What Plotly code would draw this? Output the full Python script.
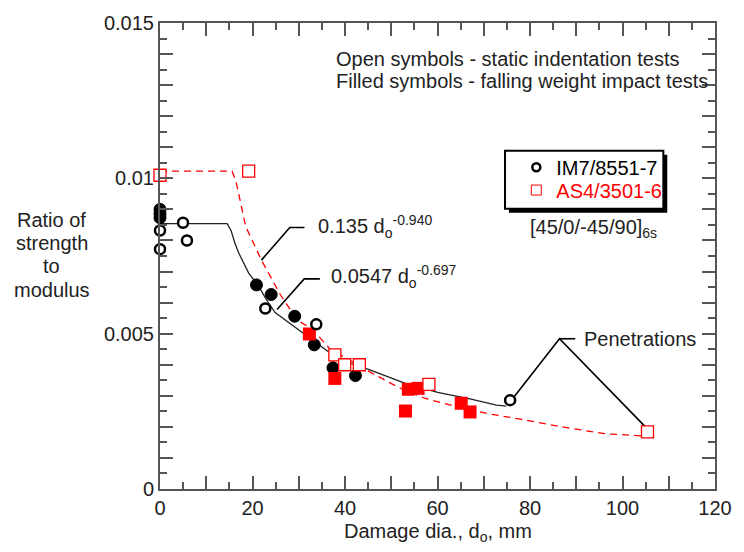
import plotly.graph_objects as go

# ---------------- data ----------------
im7_open_x = [0, 0, 4.98, 5.83, 22.77, 33.79, 75.7]
im7_open_y = [0.00832, 0.00772, 0.00857, 0.0080, 0.00581, 0.0053, 0.00286]
im7_filled_x = [0, 0, 0, 20.86, 24.04, 29.12, 33.36, 37.4, 42.26]
im7_filled_y = [0.0090, 0.00886, 0.00873, 0.00657, 0.00626, 0.00556, 0.00464, 0.0039, 0.00365]
as4_open_x = [0, 19.17, 37.81, 39.93, 43.1, 58.14, 105.4]
as4_open_y = [0.0101, 0.01023, 0.00432, 0.0040, 0.0040, 0.00337, 0.00184]
as4_filled_x = [32.3, 37.81, 53.7, 55.81, 53.07, 65.13, 67.04]
as4_filled_y = [0.00499, 0.00356, 0.00321, 0.00324, 0.00251, 0.00276, 0.00248]

im7_fit_x = [0, 14.51, 15.36, 16.2, 17.05, 18.3, 19.17, 21.29, 22.98, 24.89, 28.28, 32.52,
             36.12, 38.87, 41.4, 45.21, 53.05, 60.04, 67.25, 72.75, 74.87]
im7_fit_y = [0.00854, 0.00854, 0.00832, 0.00791, 0.00759, 0.00721, 0.00695, 0.00654, 0.0061,
             0.00568, 0.0053, 0.00483, 0.00445, 0.00416, 0.00403, 0.00384, 0.0034, 0.00311,
             0.00289, 0.0027, 0.00267]
as4_fit_x = [0, 15.57, 16.42, 18.53, 21.92, 26.16, 29.76, 32.94, 36.75, 45.21, 51.57, 57.29,
             64.28, 71.49, 77.84, 86.95, 96.06, 104.3]
as4_fit_y = [0.01023, 0.01023, 0.00991, 0.00845, 0.00737, 0.00622, 0.00543, 0.00514, 0.00451,
             0.00378, 0.00327, 0.00292, 0.00264, 0.00241, 0.00225, 0.002, 0.00178, 0.00171]

# leader lines for labels
lead1_x = [31.24, 28.07, 21.92]
lead1_y = [0.008415, 0.008415, 0.007367]
lead2_x = [34.57, 31.18, 25.31]
lead2_y = [0.006764, 0.006764, 0.00578]
lead_pen_x = [76.36, 86.38, 104.96, None, 86.38, 89.77]
lead_pen_y = [0.002931, 0.004836, 0.0020, None, 0.004836, 0.004836]

x_tickvals = list(range(0, 121, 10))
x_ticktext = [str(v) if v % 20 == 0 else "" for v in x_tickvals]
y_tickvals = [i * 0.001 for i in range(16)]
y_ticklabels = {0: "0", 5: "0.005", 10: "0.01", 15: "0.015"}
y_ticktext = [y_ticklabels.get(i, "") for i in range(16)]

FONT = "Liberation Sans, Arial, sans-serif"
FS = 20
AX = "#555555"

fig = go.Figure()

fig.add_trace(go.Scatter(x=im7_fit_x, y=im7_fit_y, mode="lines",
                         line=dict(color="#222222", width=1.3), showlegend=False, hoverinfo="skip"))
fig.add_trace(go.Scatter(x=as4_fit_x, y=as4_fit_y, mode="lines",
                         line=dict(color="#ff0000", width=1.3, dash="7px,5px"),
                         showlegend=False, hoverinfo="skip"))
for lx, ly in [(lead1_x, lead1_y), (lead2_x, lead2_y), (lead_pen_x, lead_pen_y)]:
    fig.add_trace(go.Scatter(x=lx, y=ly, mode="lines", line=dict(color="black", width=1.6),
                             showlegend=False, hoverinfo="skip", connectgaps=False))

fig.add_trace(go.Scatter(x=im7_filled_x, y=im7_filled_y, mode="markers", showlegend=False,
                         cliponaxis=False,
                         marker=dict(symbol="circle", size=12, color="black",
                                     line=dict(color="black", width=1))))
fig.add_trace(go.Scatter(x=as4_filled_x, y=as4_filled_y, mode="markers", showlegend=False,
                         cliponaxis=False,
                         marker=dict(symbol="square", size=13, color="#ff0000",
                                     line=dict(color="#ff0000", width=0))))
fig.add_trace(go.Scatter(x=im7_open_x, y=im7_open_y, mode="markers", showlegend=False,
                         cliponaxis=False,
                         marker=dict(symbol="circle", size=10, color="white",
                                     line=dict(color="black", width=2.5))))
fig.add_trace(go.Scatter(x=as4_open_x, y=as4_open_y, mode="markers", showlegend=False,
                         cliponaxis=False,
                         marker=dict(symbol="square", size=12, color="white",
                                     line=dict(color="#ff0000", width=1.3))))

# legend-only entries
fig.add_trace(go.Scatter(x=[None], y=[None], mode="markers", name="IM7/8551-7", legend="legend",
                         marker=dict(symbol="circle", size=8, color="white",
                                     line=dict(color="black", width=2.5))))
fig.add_trace(go.Scatter(x=[None], y=[None], mode="markers", name="AS4/3501-6", legend="legend2",
                         marker=dict(symbol="square", size=10, color="white",
                                     line=dict(color="#ff0000", width=1))))

# legend box + shadow (data coords)
bx0, bx1, by0, by1 = 74.6, 108.83, 0.00902, 0.01089
fig.add_shape(type="rect", x0=bx0 + 0.85, x1=bx1 + 0.85, y0=by0 - 0.000127, y1=by1 - 0.000127,
              fillcolor="black", line=dict(width=0), layer="above")
fig.add_shape(type="rect", x0=bx0, x1=bx1, y0=by0, y1=by1,
              fillcolor="white", line=dict(color="black", width=2), layer="above")

def txt(x, y, s, size=FS, color="#222222", xanchor="left", xref="x", yref="y"):
    fig.add_annotation(x=x, y=y, xref=xref, yref=yref, text=s, showarrow=False,
                       xanchor=xanchor, yanchor="middle",
                       font=dict(family=FONT, size=size, color=color))

txt(37.6, 0.01385, "Open symbols - static indentation tests")
txt(37.6, 0.01312, "Filled symbols - falling weight impact tests")
txt(33.64, 0.00846, "0.135 d<sub>o</sub><sup>-0.940</sup>")
txt(36.47, 0.00684, "0.0547 d<sub>o</sub><sup>-0.697</sup>")
txt(91.19, 0.004836, "Penetrations")
txt(79.5, 0.00838, "[45/0/-45/90]<sub>6s</sub>")

# y-axis title lines
for yy, s in [(0.5765, "Ratio of"), (0.5272, "strength"), (0.4779, "to"), (0.4271, "modulus")]:
    txt(-0.195, yy, s, xanchor="center", xref="paper", yref="paper")
# x-axis title
txt(0.5, -0.094, "Damage dia., d<sub>o</sub>, mm", xanchor="center", xref="paper", yref="paper")

axis_common = dict(showline=True, linecolor=AX, linewidth=2, mirror="allticks",
                   ticks="inside", ticklen=13, tickwidth=1.5, tickcolor=AX,
                   showgrid=False, zeroline=False,
                   tickfont=dict(family=FONT, size=FS, color="#222222"))

fig.update_xaxes(range=[0, 120], tickmode="array", tickvals=x_tickvals, ticktext=x_ticktext,
                 minor=dict(dtick=5, tick0=0, ticklen=7, tickwidth=1.5, tickcolor=AX, ticks="inside"),
                 **axis_common)
fig.update_yaxes(range=[0, 0.015], tickmode="array", tickvals=y_tickvals, ticktext=y_ticktext,
                 minor=dict(dtick=0.0005, tick0=0, ticklen=7, tickwidth=1.5, tickcolor=AX, ticks="inside"),
                 **axis_common)

fig.update_layout(
    width=744, height=552,
    margin=dict(l=159.5, r=18, t=16.7, b=63),
    plot_bgcolor="white", paper_bgcolor="white",
    font=dict(family=FONT, size=FS, color="#222222"),
    showlegend=True,
    legend=dict(x=0.642, y=0.6903, xanchor="left", yanchor="middle",
                bgcolor="rgba(0,0,0,0)", borderwidth=0,
                font=dict(family=FONT, size=FS, color="black")),
    legend2=dict(x=0.642, y=0.6415, xanchor="left", yanchor="middle",
                 bgcolor="rgba(0,0,0,0)", borderwidth=0,
                 font=dict(family=FONT, size=FS, color="#ff0000")),
)

fig.write_html("out.html")
